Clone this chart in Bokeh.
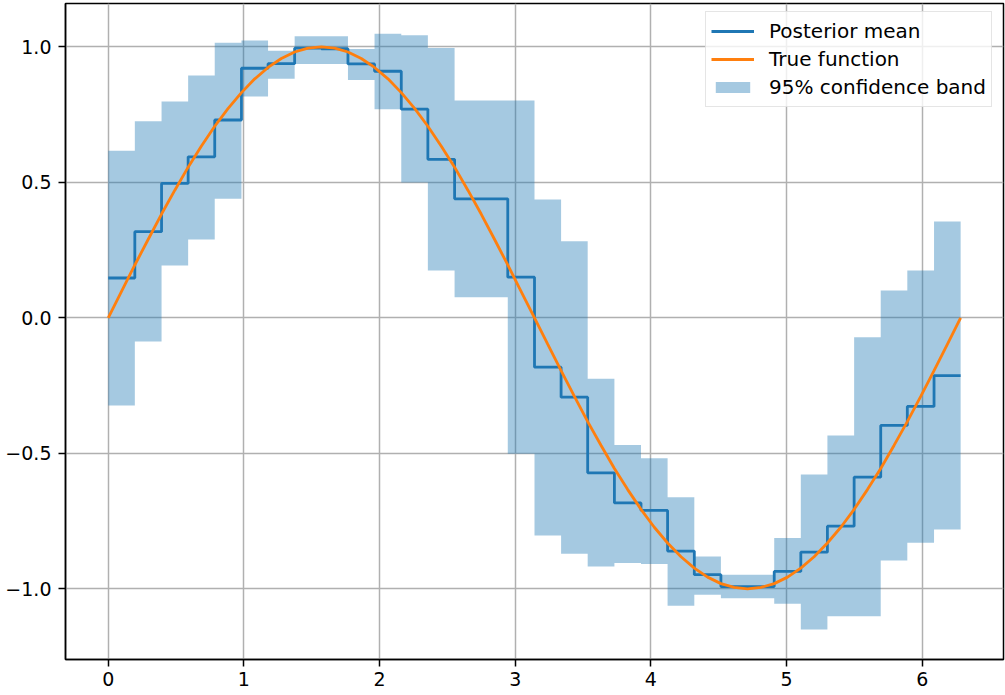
from bokeh.plotting import figure
from bokeh.models import Range1d, FixedTicker, CustomJSTickFormatter, Legend, LegendItem
from bokeh.embed import file_html
from bokeh.resources import INLINE

# ---- data ----
true_x = [0.000, 0.098, 0.196, 0.295, 0.393, 0.491, 0.589, 0.687, 0.785, 0.884,
          0.982, 1.080, 1.178, 1.276, 1.374, 1.473, 1.571, 1.669, 1.767, 1.865,
          1.963, 2.062, 2.160, 2.258, 2.356, 2.454, 2.553, 2.651, 2.749, 2.847,
          2.945, 3.043, 3.142, 3.240, 3.338, 3.436, 3.534, 3.633, 3.731, 3.829,
          3.927, 4.025, 4.123, 4.222, 4.320, 4.418, 4.516, 4.614, 4.712, 4.811,
          4.909, 5.007, 5.105, 5.203, 5.301, 5.400, 5.498, 5.596, 5.694, 5.792,
          5.890, 5.989, 6.087, 6.185, 6.283]
true_y = [0.000, 0.098, 0.195, 0.290, 0.383, 0.471, 0.556, 0.634, 0.707, 0.773,
          0.831, 0.882, 0.924, 0.957, 0.981, 0.995, 1.000, 0.995, 0.981, 0.957,
          0.924, 0.882, 0.831, 0.773, 0.707, 0.634, 0.556, 0.471, 0.383, 0.290,
          0.195, 0.098, 0.000, -0.098, -0.195, -0.290, -0.383, -0.471, -0.556, -0.634,
          -0.707, -0.773, -0.831, -0.882, -0.924, -0.957, -0.981, -0.995, -1.000, -0.995,
          -0.981, -0.957, -0.924, -0.882, -0.831, -0.773, -0.707, -0.634, -0.556, -0.471,
          -0.383, -0.290, -0.195, -0.098, 0.000]

bin_edges = true_x[::2]  # 33 edges, 32 bins

post_mean = [0.147, 0.318, 0.496, 0.594, 0.730, 0.921, 0.938, 0.995,
             0.993, 0.937, 0.910, 0.770, 0.585, 0.439, 0.439, 0.150,
             -0.182, -0.293, -0.572, -0.683, -0.711, -0.861, -0.948, -0.992,
             -0.992, -0.936, -0.865, -0.769, -0.588, -0.397, -0.327, -0.213]
band_upper = [0.617, 0.725, 0.798, 0.894, 1.015, 1.023, 0.986, 1.039,
              1.039, 0.992, 1.048, 1.043, 0.996, 0.802, 0.802, 0.802,
              0.437, 0.283, -0.225, -0.469, -0.518, -0.662, -0.881, -0.948,
              -0.948, -0.813, -0.578, -0.434, -0.072, 0.101, 0.175, 0.355]
band_lower = [-0.324, -0.087, 0.193, 0.289, 0.439, 0.817, 0.882, 0.937,
              0.937, 0.878, 0.770, 0.499, 0.175, 0.076, 0.076, -0.502,
              -0.803, -0.871, -0.918, -0.905, -0.909, -1.063, -1.022, -1.035,
              -1.035, -1.055, -1.150, -1.101, -1.101, -0.896, -0.830, -0.781]

x_ticks = [0, 1, 2, 3, 4, 5, 6]
y_ticks = [-1.0, -0.5, 0.0, 0.5, 1.0]

labels = ["Posterior mean", "True function", "95% confidence band"]

# ---- figure ----
p = figure(width=1005, height=695, output_backend="svg", toolbar_location=None,
           x_range=Range1d(-0.315, 6.599), y_range=Range1d(-1.261, 1.160),
           min_border_left=65, min_border_right=2, min_border_top=3, min_border_bottom=36)

p.background_fill_color = "white"
p.border_fill_color = "white"
p.outline_line_color = "black"
p.outline_line_width = 1.5
p.outline_line_alpha = 1.0

r_band = p.varea_step(x=bin_edges, y1=band_lower + [band_lower[-1]],
                      y2=band_upper + [band_upper[-1]], step_mode="after",
                      fill_color="#1f77b4", fill_alpha=0.4)
r_mean = p.step(x=bin_edges, y=post_mean + [post_mean[-1]], mode="after",
                line_color="#1f77b4", line_width=2.8)
r_true = p.line(x=true_x, y=true_y, line_color="#ff7f0e", line_width=2.8)

p.xaxis.ticker = FixedTicker(ticks=x_ticks)
p.yaxis.ticker = FixedTicker(ticks=y_ticks)
p.yaxis.formatter = CustomJSTickFormatter(
    code="return (tick < 0 ? '\u2212' : '') + Math.abs(tick).toFixed(1);")

for ax in (p.xaxis[0], p.yaxis[0]):
    ax.axis_line_color = "black"
    ax.axis_line_width = 1.5
    ax.major_tick_line_color = "black"
    ax.major_tick_line_width = 1.5
    ax.major_tick_out = 7
    ax.major_tick_in = 0
    ax.minor_tick_out = 0
    ax.minor_tick_in = 0
    ax.major_label_text_font = "DejaVu Sans"
    ax.major_label_text_font_size = "19px"
    ax.major_label_text_color = "black"
p.yaxis.major_label_standoff = 7
p.xaxis.major_label_standoff = 5

p.grid.grid_line_color = "#b0b0b0"
p.grid.grid_line_width = 1.5
p.grid.grid_line_alpha = 1.0

legend = Legend(items=[LegendItem(label=labels[0], renderers=[r_mean]),
                       LegendItem(label=labels[1], renderers=[r_true]),
                       LegendItem(label=labels[2], renderers=[r_band])],
                location=(640, 552))
legend.label_text_font = "DejaVu Sans"
legend.label_text_font_size = "20px"
legend.label_text_color = "black"
legend.glyph_width = 43
legend.glyph_height = 14
legend.label_height = 28
legend.label_standoff = 15
legend.spacing = 0
legend.padding = 5
legend.margin = 0
legend.border_line_color = "#cccccc"
legend.border_line_width = 1.5
legend.background_fill_color = "white"
legend.background_fill_alpha = 0.8
p.add_layout(legend)

open("out.html", "w", encoding="utf-8").write(file_html(p, INLINE))
